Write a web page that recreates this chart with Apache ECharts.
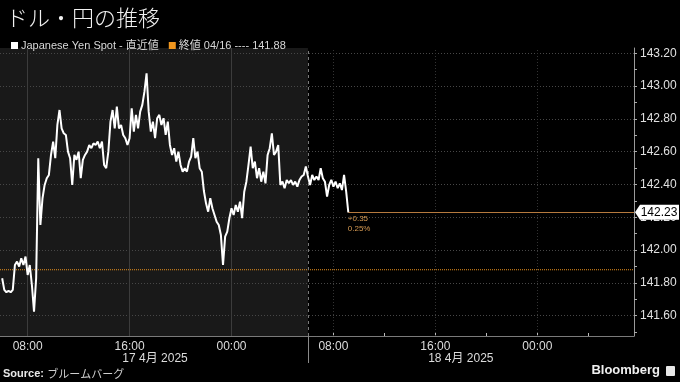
<!DOCTYPE html>
<html>
<head>
<meta charset="utf-8">
<script src="https://cdn.jsdelivr.net/npm/echarts@6/dist/echarts.min.js"></script>
<style>
html,body{margin:0;padding:0;background:#000;}
#chart{width:680px;height:382px;}
</style>
</head>
<body>
<div id="chart"></div>
<script>
// ---- data (hours counted from 00:00, 17 Apr 2025) ----
const startHour = 6;          // first sample: 06:00 17 Apr
const stepHour = 1 / 6;       // 10-minute samples
const yenSpot = [
141.828,141.757,141.743,141.751,141.743,141.757,141.909,141.930,141.899,141.950,
141.909,141.960,141.848,141.909,141.787,141.625,141.828,142.560,142.153,142.316,
142.397,142.438,142.458,142.580,142.661,142.560,142.763,142.854,142.742,142.712,
142.702,142.600,142.560,142.397,142.580,142.550,142.600,142.438,142.550,142.580,
142.600,142.641,142.621,142.651,142.641,142.661,142.621,142.661,142.519,142.499,
142.600,142.783,142.854,142.742,142.875,142.742,142.763,142.702,142.682,142.641,
142.682,142.864,142.722,142.824,142.742,142.844,142.885,142.966,143.078,142.844,
142.722,142.783,142.682,142.804,142.824,142.763,142.804,142.702,142.783,142.641,
142.580,142.621,142.539,142.600,142.519,142.478,142.499,142.478,142.539,142.570,
142.682,142.560,142.600,142.499,142.478,142.360,142.285,142.234,142.316,142.255,
142.214,142.173,142.153,142.092,141.909,142.082,142.112,142.194,142.255,142.214,
142.275,142.234,142.295,142.194,142.356,142.417,142.519,142.631,142.499,142.539,
142.438,142.499,142.417,142.478,142.407,142.580,142.621,142.712,142.580,142.600,
142.641,142.397,142.417,142.377,142.427,142.407,142.427,142.397,142.417,142.387,
142.427,142.448,142.458,142.509,142.448,142.397,142.458,142.427,142.448,142.427,
142.499,142.438,142.417,142.326,142.397,142.428,142.387,142.417,142.377,142.407,
142.366,142.458,142.356,142.230
];
const prevClose = 141.88;
const prevCloseLabel = '終値 04/16 ---- 141.88';
const seriesName = 'Japanese Yen Spot - 直近値';
const yLabelValues = [141.6,141.8,142.0,142.2,142.4,142.6,142.8,143.0,143.2];
const yTickValues = [141.5,141.6,141.7,141.8,141.9,142.0,142.1,142.2,142.3,142.4,142.5,142.6,142.7,142.8,142.9,143.0,143.1,143.2];
const xLabelHours = [8,16,24,32,40,48];
const xLabelTexts = ['08:00','16:00','00:00','08:00','16:00','00:00'];
const xTickHours = [8,12,16,20,24,28,32,36,40,44,48,52];
const dateHours = [18,42];
const dateLabels = ['17 4月 2025','18 4月 2025'];
const dayBoundaryHour = 30;
const shadedGridHours = [8,16,24];
const plainGridHours = [32,40,48];

// axis range
const xMin = 5.83, xMax = 55.59;
const yMin = 141.476, yMax = 143.232;

const spotData = yenSpot.map((v, i) => [startHour + i * stepHour, v]);
const lastPoint = spotData[spotData.length - 1];
const lastVal = lastPoint[1];
const change = lastVal - prevClose;
const pct = change / prevClose * 100;

const chart = echarts.init(document.getElementById('chart'));
const FONT = '"Liberation Sans", "Noto Sans CJK JP", sans-serif';

const option = {
  backgroundColor: '#000',
  animation: false,
  title: {
    text: 'ドル・円の推移',
    left: 1, top: 2,
    textStyle: { color: '#f2f2f2', fontSize: 22, fontWeight: 300, fontFamily: '"Noto Sans CJK JP", sans-serif' }
  },
  legend: {
    left: 6, top: 35,
    itemWidth: 7, itemHeight: 7, itemGap: 10,
    textStyle: { color: '#d8d8d8', fontSize: 11, fontFamily: FONT, padding: [0,0,0,-2] },
    data: [
      { name: seriesName, icon: 'rect', itemStyle: { color: '#ffffff' } },
      { name: prevCloseLabel, icon: 'rect', itemStyle: { color: '#f0961e' } }
    ]
  },
  grid: { left: 0, right: 46, top: 48, bottom: 46 },
  xAxis: [
    {
      type: 'value', min: xMin, max: xMax, position: 'bottom',
      axisLine: { show: true, lineStyle: { color: '#7a7a7a', width: 1 } },
      axisTick: { show: true, inside: true, length: 3, customValues: xTickHours, lineStyle: { color: '#bbbbbb' } },
      axisLabel: {
        customValues: xLabelHours, color: '#dcdcdc', fontSize: 12, fontFamily: FONT, margin: 5,
        formatter: v => { const i = xLabelHours.indexOf(v); return i >= 0 ? xLabelTexts[i] : ''; }
      },
      splitLine: { show: false }
    },
    {
      type: 'value', min: xMin, max: xMax, position: 'bottom', gridIndex: 0,
      axisLine: { show: false },
      axisTick: { show: true, inside: false, length: 27, customValues: [dayBoundaryHour], lineStyle: { color: '#8a8a8a' } },
      axisLabel: {
        customValues: dateHours, color: '#dcdcdc', fontSize: 12, fontFamily: FONT, margin: 17,
        formatter: v => { const i = dateHours.indexOf(v); return i >= 0 ? dateLabels[i] : ''; }
      },
      splitLine: { show: false }
    }
  ],
  yAxis: {
    type: 'value', position: 'right', min: yMin, max: yMax,
    axisLine: { show: true, lineStyle: { color: '#9a9a9a' } },
    axisTick: { show: true, inside: false, length: 3, customValues: yTickValues, lineStyle: { color: '#aaaaaa' } },
    axisLabel: {
      customValues: yLabelValues, color: '#e0e0e0', fontSize: 12, fontFamily: FONT, margin: 6,
      formatter: v => v.toFixed(2)
    },
    splitLine: { show: false }
  },
  series: [
    {
      // background shading + grid lines
      type: 'line', data: [], z: 1, silent: true,
      markArea: {
        silent: true,
        itemStyle: { color: '#191919' },
        data: [[{ xAxis: xMin }, { xAxis: dayBoundaryHour }]]
      },
      markLine: {
        silent: true, symbol: 'none', label: { show: false },
        data: [
          ...yLabelValues.map(v => ({ yAxis: v, lineStyle: { color: '#474747', type: [1, 2], width: 1 } })),
          ...shadedGridHours.map(h => ({ xAxis: h, lineStyle: { color: '#3c3c3c', type: 'solid', width: 1 } })),
          ...plainGridHours.map(h => ({ xAxis: h, lineStyle: { color: '#333333', type: [1, 2], width: 1 } })),
          { xAxis: dayBoundaryHour, lineStyle: { color: '#7a7a7a', type: [3, 3], width: 1 } }
        ]
      }
    },
    {
      name: prevCloseLabel, type: 'line', z: 3, symbol: 'none', silent: true,
      data: [[xMin, prevClose], [xMax, prevClose]],
      lineStyle: { color: '#e8901c', width: 1, type: [1, 1] },
      itemStyle: { color: '#f0961e' }
    },
    {
      name: seriesName, type: 'line', z: 5, symbol: 'none',
      data: spotData,
      lineStyle: { color: '#ffffff', width: 2 },
      itemStyle: { color: '#ffffff' },
      markLine: {
        silent: true, symbol: 'none', label: { show: false },
        lineStyle: { color: '#b67a3e', type: 'solid', width: 1 },
        data: [[{ coord: [lastPoint[0], lastVal] }, { coord: [xMax, lastVal] }]]
      },
      markPoint: {
        silent: true,
        data: [
          {
            coord: [xMax, lastVal],
            symbol: 'path://M0,6 L5,0 L44,0 L44,12 L5,12 Z',
            symbolSize: [44, 15], symbolOffset: [23, 0],
            itemStyle: { color: '#ffffff' },
            label: { show: true, position: 'inside', offset: [2, 0], formatter: lastVal.toFixed(2), color: '#000', fontSize: 12, fontFamily: FONT }
          },
          {
            coord: [lastPoint[0], lastVal],
            symbol: 'rect', symbolSize: 1,
            itemStyle: { color: 'rgba(0,0,0,0)' },
            label: {
              show: true, position: [0, 2], align: 'left', verticalAlign: 'top',
              formatter: (change >= 0 ? '+' : '') + change.toFixed(2) + '\n' + pct.toFixed(2) + '%',
              color: '#d69a52', fontSize: 8, lineHeight: 10, fontFamily: FONT
            }
          }
        ]
      }
    }
  ],
  graphic: [
    {
      type: 'text', left: 3, top: 368,
      style: {
        text: '{b|Source:} {n|ブルームバーグ}',
        rich: {
          b: { fontWeight: 'bold', fontSize: 11, fill: '#e8e8e8', fontFamily: FONT },
          n: { fontSize: 11, fill: '#cfcfcf', fontFamily: '"Noto Sans CJK JP", sans-serif' }
        }
      }
    },
    {
      type: 'text', right: 20, top: 364,
      style: { text: 'Bloomberg', fontWeight: 'bold', fontSize: 13, fill: '#f0f0f0', fontFamily: FONT }
    },
    {
      type: 'rect', right: 5, top: 366, shape: { width: 9, height: 10, r: 1 },
      style: { fill: '#e8e8e8' }
    }
  ]
};
chart.setOption(option);
</script>
</body>
</html>
